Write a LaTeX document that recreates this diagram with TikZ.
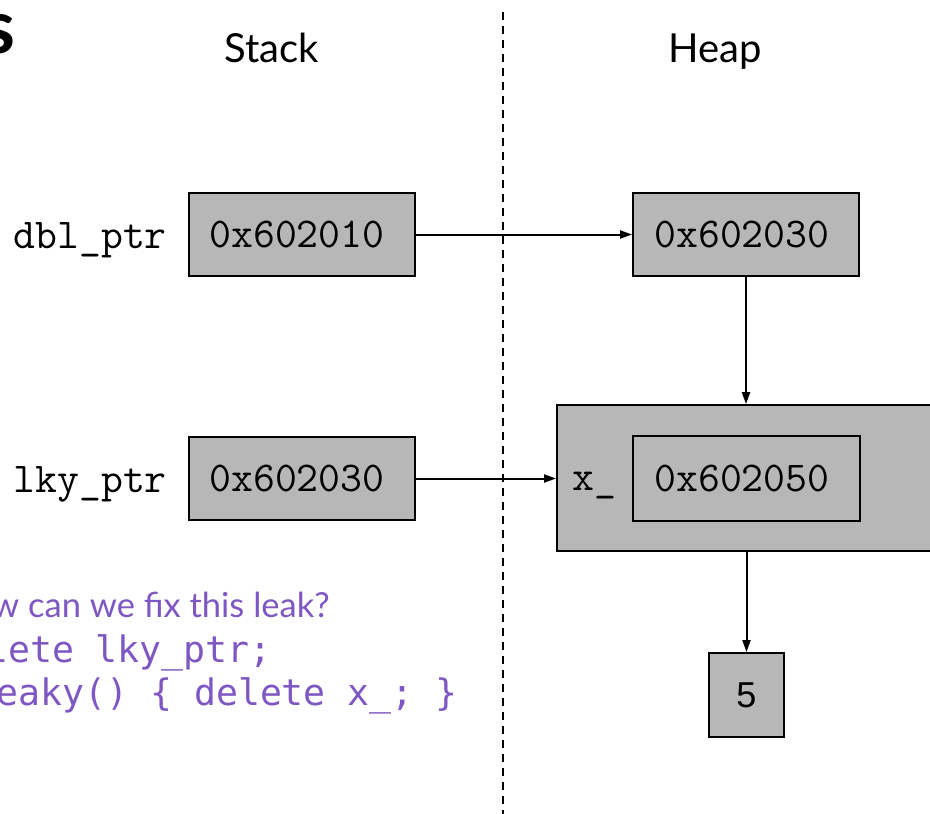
\documentclass[tikz,border=0pt]{standalone}
\usepackage{fontspec}
\setmainfont{Lato}
\newfontfamily\codefont{DejaVu Sans Mono}
\newfontfamily\numfont{Liberation Sans}
\usetikzlibrary{arrows.meta}
\definecolor{cellgray}{HTML}{B7B7B7}
\definecolor{quizpurple}{HTML}{7E57C2}
\tikzset{
  cell/.style={draw=black, line width=1.8pt, fill=cellgray, inner sep=0pt},
  celltext/.style={font=\ttfamily\fontsize{42.5}{46}\selectfont, inner sep=0pt, anchor=base},
  varlabel/.style={font=\ttfamily\fontsize{42.5}{46}\selectfont, inner sep=0pt, anchor=base east},
  region/.style={font=\fontsize{40}{44}\selectfont, inner sep=0pt, anchor=base},
  ptr/.style={line width=2pt, -{Triangle[length=12pt,width=8pt]}},
  question/.style={text=quizpurple, inner sep=0pt, anchor=base west, font=\fontsize{34.5}{40}\selectfont},
  code/.style={text=quizpurple, inner sep=0pt, anchor=base east, font=\codefont\fontsize{36.5}{40}\selectfont},
}
\begin{document}
\begin{tikzpicture}[x=1pt, y=-1pt]
\useasboundingbox (0,0) rectangle (930,814);
\clip (0,0) rectangle (930,814);

% title tail
\node[inner sep=0pt, anchor=base east, font=\bfseries\fontsize{75}{80}\selectfont] (ttl) at (16,53) {s};

% region headings and divider
\node[region] (stk) at (272,62) {Stack};
\node[region] (hp) at (715,62) {Heap};
\coordinate (divtop) at (503,12);
\coordinate (divbot) at (503,814);
\draw[line width=2pt, dash pattern=on 8pt off 6pt] (divtop) -- (divbot);

% stack cells
\node[cell, minimum width=226pt, minimum height=83pt] (dbl) at (302,234.5) {};
\node[celltext] (dbltxt) at (297,247) {0x602010};
\node[varlabel] (dbllbl) at (167,248) {dbl\_ptr};

\node[cell, minimum width=226pt, minimum height=83pt] (lky) at (302,478.5) {};
\node[celltext] (lkytxt) at (297,491) {0x602030};
\node[varlabel] (lkylbl) at (167,492) {lky\_ptr};

% heap cells
\node[cell, minimum width=226pt, minimum height=83pt] (h1) at (746,234.5) {};
\node[celltext] (h1txt) at (742,247) {0x602030};

\node[cell, minimum width=390pt, minimum height=146pt] (obj) at (752,478) {};
\node[cell, fill=none, minimum width=227pt, minimum height=85pt] (xf) at (746.5,478.5) {};
\node[celltext] (xftxt) at (742,491) {0x602050};
\node[celltext] (xlbl) at (594,490) {x\_};

\node[cell, minimum width=75pt, minimum height=84pt] (five) at (746.5,695) {};
\node[inner sep=0pt, font=\numfont\fontsize{36}{40}\selectfont] (fivetxt) at (746.5,695) {5};

% pointers
\draw[ptr] (dbl.east) -- (h1.west);
\draw[ptr] (h1.south) -- (h1.south |- obj.north);
\draw[ptr] (lky.east) -- (lky.east -| obj.west);
\draw[ptr] (obj.south -| five.north) -- (five.north);

% question and answers
\node[question] (q) at (-8,617) {w can we fix this leak?};
\node[code] (a1) at (272,662) {lete lky\_ptr;};
\node[code] (a2) at (458,705) {eaky() \{ delete x\_; \}};
\end{tikzpicture}
\end{document}
